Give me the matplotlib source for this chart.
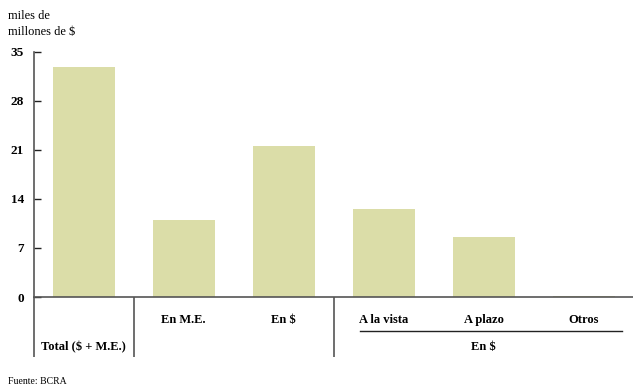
import matplotlib
matplotlib.use("Agg")
import matplotlib.pyplot as plt
from matplotlib.transforms import blended_transform_factory

# Depositos por tipo, miles de millones de $
CATEGORIES = ["Total ($ + M.E.)", "En M.E.", "En $", "A la vista", "A plazo", "Otros"]
VALUES = [32.8, 11.0, 21.5, 12.6, 8.5, 0.15]
GROUP_LABEL = "En $"
GROUP_MEMBERS = ["A la vista", "A plazo", "Otros"]
Y_TICKS = [0, 7, 14, 21, 28, 35]

BAR_COLOR = "#dbdda8"
AXIS_COLOR = "#555555"
FONT = ["Liberation Serif", "DejaVu Serif"]

plt.rcParams["font.family"] = FONT

fig = plt.figure(figsize=(6.33, 3.89), dpi=100)
ax = fig.add_axes([33.5 / 633, 92 / 389, 600 / 633, 245.3 / 389])

x = list(range(len(CATEGORIES)))
ax.bar(x, VALUES, width=0.62, color=BAR_COLOR, zorder=2)
ax.set_xlim(-0.5, len(CATEGORIES) - 0.5)
ax.set_ylim(0, 35)
ax.set_yticks(Y_TICKS)
ax.set_xticks([])
for label in ax.get_yticklabels():
    label.set_fontweight("bold")
ax.tick_params(axis="y", which="both", direction="in", length=5, width=1,
               color="#222222", pad=7, labelsize=9.5)

for side in ("top", "right"):
    ax.spines[side].set_visible(False)
for side in ("left", "bottom"):
    ax.spines[side].set_color(AXIS_COLOR)
    ax.spines[side].set_linewidth(1.2)

trans = blended_transform_factory(ax.transData, ax.transAxes)
drop = -0.245

# left axis and separators run down through the label area
for xs in (-0.5, 0.5, 2.5):
    ax.plot([xs, xs], [0, drop], transform=trans, color=AXIS_COLOR, lw=1.2,
            clip_on=False, solid_capstyle="butt")

for i, name in enumerate(CATEGORIES):
    y_lab = -0.205 if i == 0 else -0.094
    ax.text(i, y_lab, name, transform=trans, ha="center", va="center",
            fontsize=9, fontweight="bold")

first = CATEGORIES.index(GROUP_MEMBERS[0])
last = CATEGORIES.index(GROUP_MEMBERS[-1])
ax.plot([first - 0.24, last + 0.38], [-0.139, -0.139], transform=trans,
        color="#222222", lw=1, clip_on=False)
ax.text((first + last) / 2, -0.205, GROUP_LABEL, transform=trans,
        ha="center", va="center", fontsize=9, fontweight="bold")

fig.text(8 / 633, 1 - 16 / 389, "miles de", fontsize=9, va="center")
fig.text(8 / 633, 1 - 32 / 389, "millones de $", fontsize=9, va="center")
fig.text(8 / 633, 1 - 381 / 389, "Fuente: BCRA", fontsize=7, va="center")

fig.savefig("out.png", dpi=100)
